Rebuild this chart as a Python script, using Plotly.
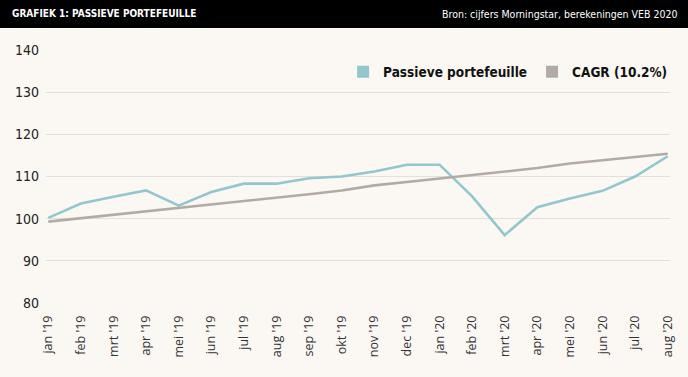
import plotly.graph_objects as go

months = ["jan '19", "feb '19", "mrt '19", "apr '19", "mei '19", "jun '19", "jul '19",
          "aug '19", "sep '19", "okt '19", "nov '19", "dec '19", "jan '20", "feb '20",
          "mrt '20", "apr '20", "mei '20", "jun '20", "jul '20", "aug '20"]
passief = [100.2, 103.6, 105.2, 106.7, 103.1, 106.3, 108.3, 108.3, 109.6, 110.0,
           111.2, 112.8, 112.8, 105.3, 96.1, 102.7, 104.8, 106.6, 110.0, 114.8]
cagr = [99.3, 100.1, 100.9, 101.7, 102.5, 103.3, 104.1, 104.9, 105.8, 106.7,
        107.9, 108.7, 109.5, 110.3, 111.1, 112.0, 113.1, 113.9, 114.6, 115.4]
y_ticks = [80, 90, 100, 110, 120, 130, 140]

TEAL = "#93c6cd"
GREY = "#b3aaa6"
BG = "#fbf8f3"
NARROW = "DejaVu Sans Condensed, Liberation Sans Narrow, sans-serif"

W, H = 688, 377
ML, MR, MT, MB = 46, 18, 50, 74
pw, ph = W - ML - MR, H - MT - MB

def px2x(px):
    return (px - ML) / pw

def py2y(py):
    return (H - MB - py) / ph

fig = go.Figure()
xi = list(range(len(months)))
fig.add_trace(go.Scatter(x=xi, y=passief, mode="lines", line=dict(color=TEAL, width=2.6),
                         showlegend=False, hoverinfo="skip"))
fig.add_trace(go.Scatter(x=xi, y=cagr, mode="lines", line=dict(color=GREY, width=2.6),
                         showlegend=False, hoverinfo="skip"))
fig.add_trace(go.Scatter(x=[None], y=[None], mode="markers", name="<b>Passieve portefeuille</b>",
                         marker=dict(symbol="square", size=12, color=TEAL)))
fig.add_trace(go.Scatter(x=[None], y=[None], mode="markers", name="<b>CAGR (10.2%)</b>",
                         marker=dict(symbol="square", size=12, color=GREY)))

fig.update_layout(
    width=W, height=H,
    margin=dict(l=ML, r=MR, t=MT, b=MB, autoexpand=False),
    paper_bgcolor=BG, plot_bgcolor=BG,
    showlegend=True,
    legend=dict(orientation="h", x=1.005, xanchor="right", y=py2y(72), yanchor="middle",
                font=dict(family=NARROW, size=13.5, color="#111"), bgcolor="rgba(0,0,0,0)",
                itemwidth=30, tracegroupgap=0),
    xaxis=dict(tickmode="array", tickvals=xi, ticktext=months, tickangle=-90,
               range=[-0.07, len(months) - 1 + 0.07], showgrid=False, zeroline=False,
               showline=False, ticks="", automargin=False, ticklabelstandoff=9,
               tickfont=dict(family="Open Sans, sans-serif", size=12.5, color="#333")),
    yaxis=dict(range=[80, 140], tickvals=y_ticks, showgrid=True, gridcolor="#e3dfdb",
               gridwidth=1.2, zeroline=False, showline=False, ticks="", automargin=False,
               ticklabelstandoff=6,
               tickfont=dict(family=NARROW, size=14, color="#222")),
    shapes=[dict(type="rect", xref="paper", yref="paper", x0=px2x(0), x1=px2x(W),
                 y0=py2y(28), y1=py2y(0), fillcolor="#000", line=dict(width=0), layer="above")],
    annotations=[
        dict(text="<b>GRAFIEK 1: PASSIEVE PORTEFEUILLE</b>", xref="paper", yref="paper",
             x=px2x(10), y=py2y(14), xanchor="left", yanchor="middle", showarrow=False,
             font=dict(family=NARROW, size=10, color="#fff")),
        dict(text="Bron: cijfers Morningstar, berekeningen VEB 2020", xref="paper", yref="paper",
             x=px2x(680), y=py2y(14), xanchor="right", yanchor="middle", showarrow=False,
             font=dict(family=NARROW, size=10.5, color="#fff")),
    ],
)

fig.write_html("out.html", config={"displayModeBar": False},
               post_script="document.body.style.margin='0';document.body.style.background='%s';" % BG)
